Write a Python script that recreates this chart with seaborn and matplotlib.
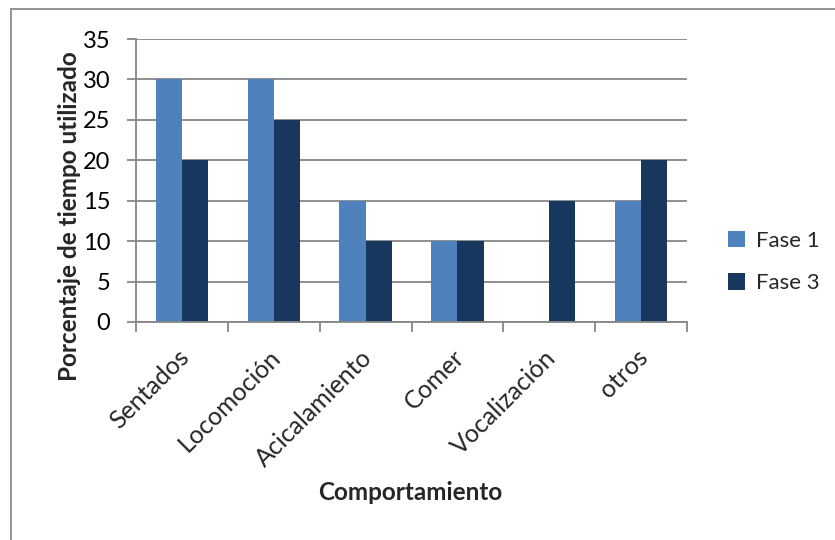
import pandas as pd
import seaborn as sns
import matplotlib.pyplot as plt
from matplotlib.lines import Line2D
from matplotlib.patches import Patch
from matplotlib.transforms import ScaledTranslation

categorias = ['Sentados', 'Locomoción', 'Acicalamiento', 'Comer', 'Vocalización', 'otros']
fase_1 = [30, 30, 15, 10, 0, 15]
fase_3 = [20, 25, 10, 10, 15, 20]
series = ['Fase 1', 'Fase 3']
colores = ['#4F81BD', '#17375E']

df = pd.DataFrame({
    'categoria': categorias * 2,
    'valor': fase_1 + fase_3,
    'serie': [series[0]] * len(categorias) + [series[1]] * len(categorias),
})

sns.set_style('white')
plt.rcParams['font.family'] = ['Lato', 'DejaVu Sans']

W, H = 835, 540
x0, x1, y0, y1 = 136, 687, 39, 322  # area del grafico en pixeles

fig = plt.figure(figsize=(W / 100, H / 100), dpi=100)
ax = fig.add_axes([x0 / W, 1 - y1 / H, (x1 - x0) / W, (y1 - y0) / H])

sns.barplot(data=df, x='categoria', y='valor', hue='serie', palette=colores,
            width=0.57, gap=0, saturation=1, linewidth=0, ax=ax, legend=False)

ax.set_xlim(-0.5, len(categorias) - 0.5)
ax.set_ylim(0, 35)
ax.set_yticks(range(0, 36, 5))
ax.yaxis.grid(True, color='#868686', linewidth=1.3)
ax.set_axisbelow(True)
for s in ['top', 'right']:
    ax.spines[s].set_visible(False)
for s in ['left', 'bottom']:
    ax.spines[s].set_color('#868686')
    ax.spines[s].set_linewidth(1.3)

ax.tick_params(axis='y', left=True, length=6.5, width=1.3, color='#868686',
               labelsize=17, labelcolor='black', pad=12)
ax.set_xticks(range(len(categorias)))
ax.set_xticklabels(categorias, rotation=45, ha='right', rotation_mode='anchor',
                   fontsize=18)
ax.tick_params(axis='x', length=0, pad=17)
# correr un poco las etiquetas hacia la izquierda
shift = ScaledTranslation(-5 / 100, 0, fig.dpi_scale_trans)
for lbl in ax.get_xticklabels():
    lbl.set_transform(lbl.get_transform() + shift)
ax.set_xticks([i - 0.5 for i in range(len(categorias) + 1)], minor=True)
ax.tick_params(axis='x', which='minor', bottom=True, length=7, width=1.3,
               color='#868686')

ax.set_xlabel('Comportamiento', fontsize=17.5, fontweight='bold')
ax.set_ylabel('Porcentaje de tiempo utilizado', fontsize=17.5, fontweight='bold')
ax.xaxis.set_label_coords((410 - x0) / (x1 - x0), -(481 - y1) / (y1 - y0))
ax.yaxis.set_label_coords(-(x0 - 81) / (x1 - x0), (y1 - 216) / (y1 - y0))

handles = [Patch(facecolor=c, edgecolor='none') for c in colores]
fig.legend(handles, series, loc='center left',
           bbox_to_anchor=(728 / W, 1 - 262 / H), frameon=False,
           fontsize=16, handlelength=0.75, handleheight=0.75, handletextpad=0.5,
           labelspacing=1.0, borderaxespad=0, borderpad=0)

# marco exterior del grafico
fig.add_artist(Line2D([11 / W, 1], [1 - 9 / H, 1 - 9 / H],
                      transform=fig.transFigure, color='#8c8c8c', linewidth=1.3))
fig.add_artist(Line2D([11 / W, 11 / W], [0, 1 - 9 / H],
                      transform=fig.transFigure, color='#8c8c8c', linewidth=1.3))

fig.savefig('out.png', dpi=100)
plt.close()
